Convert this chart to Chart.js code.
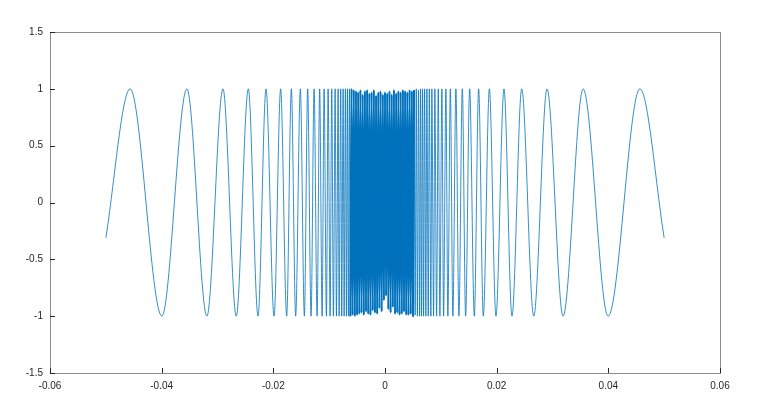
<!DOCTYPE html>
<html>
<head>
<meta charset="utf-8">
<script src="https://cdn.jsdelivr.net/npm/chart.js@4/dist/chart.umd.min.js"></script>
<style>
  html, body { margin: 0; padding: 0; background: #fff; }
  #wrap { width: 768px; height: 414px; position: relative; }
</style>
</head>
<body>
<div id="wrap"><canvas id="plot"></canvas></div>
<script>
// Values: extremes of the oscillation, left side
const xLeft = [-0.05, -0.04565, -0.03996, -0.03548, -0.03189, -0.02902, -0.02664, -0.02448, -0.02274, -0.02131,
  -0.01987, -0.01869, -0.01761, -0.01677, -0.01600, -0.01516, -0.01444, -0.01385, -0.01324, -0.01270,
  -0.01216, -0.01170, -0.01126, -0.01091, -0.01049, -0.01019, -0.00983, -0.00954, -0.00924, -0.00893,
  -0.00870, -0.00839, -0.00822, -0.00793, -0.00775, -0.00750, -0.00732, -0.00709, -0.00691, -0.00673,
  -0.00655, -0.00637];
const yLeft = [-0.31, 1, -1, 1, -1, 1, -1, 1, -1, 1, -1, 1, -1, 1, -1, 1, -1, 1, -1, 1, -1,
  1, -1, 1, -1, 1, -1, 1, -1, 1, -1, 1, -1, 1, -1, 1, -1, 1, -1, 1, -1, 1];

// dense band in the middle (estimated, lines too close to separate)
const xCenter = [-0.0062, -0.0060, -0.0058, -0.0056, -0.0054, -0.0052, -0.0050, -0.0048, -0.0046, -0.0044,
  -0.0042, -0.0040, -0.0038, -0.0036, -0.0034, -0.0032, -0.0030, -0.0028, -0.0026, -0.0024,
  -0.0022, -0.0020, -0.0018, -0.0016, -0.0014, -0.0012, -0.0010, -0.0008, -0.0006, -0.0004,
  -0.0002, 0, 0.0002, 0.0004, 0.0006, 0.0008, 0.0010, 0.0012, 0.0014, 0.0016,
  0.0018, 0.0020, 0.0022, 0.0024, 0.0026, 0.0028, 0.0030, 0.0032, 0.0034, 0.0036,
  0.0038, 0.0040, 0.0042, 0.0044, 0.0046, 0.0048, 0.0050, 0.0052, 0.0054, 0.0056,
  0.0058, 0.0060, 0.0062];
const yCenter = [-1, 1, -0.99, 0.99, -1, 0.98, -0.99, 0.97, -0.98, 0.99,
  -0.97, 0.95, -0.99, 0.98, -0.96, 0.99, -0.98, 0.96, -0.99, 0.97,
  -0.95, 0.99, -0.97, 0.94, -0.98, 0.97, -0.93, 0.98, -0.96, 0.95,
  -0.86, 0.97, -0.82, 0.96, -0.94, 0.98, -0.97, 0.95, -0.92, 0.99,
  -0.98, 0.96, -0.97, 0.98, -0.99, 0.97, -0.98, 0.99, -0.96, 0.98,
  -0.99, 0.97, -0.99, 0.99, -0.98, 0.98, -1, 0.99, -0.99, 1,
  -1, 0.99, -1];

// right side
const xRight = [0.00637, 0.00655, 0.00673, 0.00691, 0.00709, 0.00732, 0.00750, 0.00775, 0.00793, 0.00822,
  0.00839, 0.00870, 0.00893, 0.00924, 0.00954, 0.00983, 0.01019, 0.01049, 0.01091, 0.01126,
  0.01170, 0.01216, 0.01270, 0.01324, 0.01385, 0.01444, 0.01516, 0.01600, 0.01677, 0.01761,
  0.01869, 0.01987, 0.02131, 0.02274, 0.02448, 0.02664, 0.02902, 0.03189, 0.03548, 0.03996,
  0.04565, 0.05];
const yRight = [1, -1, 1, -1, 1, -1, 1, -1, 1, -1, 1, -1, 1, -1, 1, -1, 1, -1, 1, -1,
  1, -1, 1, -1, 1, -1, 1, -1, 1, -1, 1, -1, 1, -1, 1, -1, 1, -1, 1, -1, 1, -0.31];

const xTicks = [-0.06, -0.04, -0.02, 0, 0.02, 0.04, 0.06];
const yTicks = [-1.5, -1, -0.5, 0, 0.5, 1, 1.5];

const allY = yLeft.concat(yCenter, yRight);
const points = xLeft.concat(xCenter, xRight).map((x, i) => ({ x: x, y: allY[i] }));
// the solid part of the band stops a little short on the right
const solidPoints = xCenter.slice(0, 58).map((x, i) => ({ x: x, y: yCenter[i] }));

// box round the axes, with ticks pointing inward
const boxPlugin = {
  id: 'box',
  afterDraw(chart) {
    const ctx = chart.ctx;
    const a = chart.chartArea;
    const sx = chart.scales.x, sy = chart.scales.y;
    ctx.save();
    ctx.strokeStyle = '#8c8c8c';
    ctx.lineWidth = 1;
    ctx.strokeRect(Math.round(a.left) + 0.5, Math.round(a.top) + 0.5,
      Math.round(a.right - a.left), Math.round(a.bottom - a.top));
    ctx.strokeStyle = '#262626';
    ctx.beginPath();
    xTicks.forEach(v => {
      const px = Math.round(sx.getPixelForValue(v)) + 0.5;
      ctx.moveTo(px, a.bottom);
      ctx.lineTo(px, a.bottom - 5);
    });
    yTicks.forEach(v => {
      const py = Math.round(sy.getPixelForValue(v)) + 0.5;
      ctx.moveTo(a.left, py);
      ctx.lineTo(a.left + 5, py);
    });
    ctx.stroke();
    ctx.restore();
  }
};

new Chart(document.getElementById('plot'), {
  type: 'line',
  data: {
    datasets: [{
      data: points,
      borderColor: '#0072BD',
      borderWidth: 0.8,
      pointRadius: 0,
      cubicInterpolationMode: 'monotone',
      fill: false
    }, {
      // the middle is drawn a bit heavier so it fills in like the reference
      data: solidPoints,
      borderColor: '#0072BD',
      borderWidth: 2,
      pointRadius: 0,
      cubicInterpolationMode: 'monotone',
      fill: false
    }]
  },
  options: {
    responsive: true,
    maintainAspectRatio: false,
    animation: false,
    layout: { padding: { top: 32, right: 48, left: 0, bottom: 0 } },
    plugins: { legend: { display: false }, tooltip: { enabled: false } },
    scales: {
      x: {
        type: 'linear',
        min: -0.06,
        max: 0.06,
        afterFit: s => { s.height = 41; },
        afterBuildTicks: s => { s.ticks = xTicks.map(v => ({ value: v })); },
        grid: { display: false, drawTicks: false },
        border: { display: false },
        ticks: {
          autoSkip: false,
          maxRotation: 0,
          padding: 7,
          color: '#262626',
          font: { family: 'Liberation Sans, Arial, sans-serif', size: 10 },
          callback: v => String(v)
        }
      },
      y: {
        min: -1.5,
        max: 1.5,
        afterFit: s => { s.width = 50; },
        afterBuildTicks: s => { s.ticks = yTicks.map(v => ({ value: v })); },
        grid: { display: false, drawTicks: false },
        border: { display: false },
        ticks: {
          padding: 7,
          color: '#262626',
          font: { family: 'Liberation Sans, Arial, sans-serif', size: 10 },
          callback: v => String(v)
        }
      }
    }
  },
  plugins: [boxPlugin]
});
</script>
</body>
</html>
